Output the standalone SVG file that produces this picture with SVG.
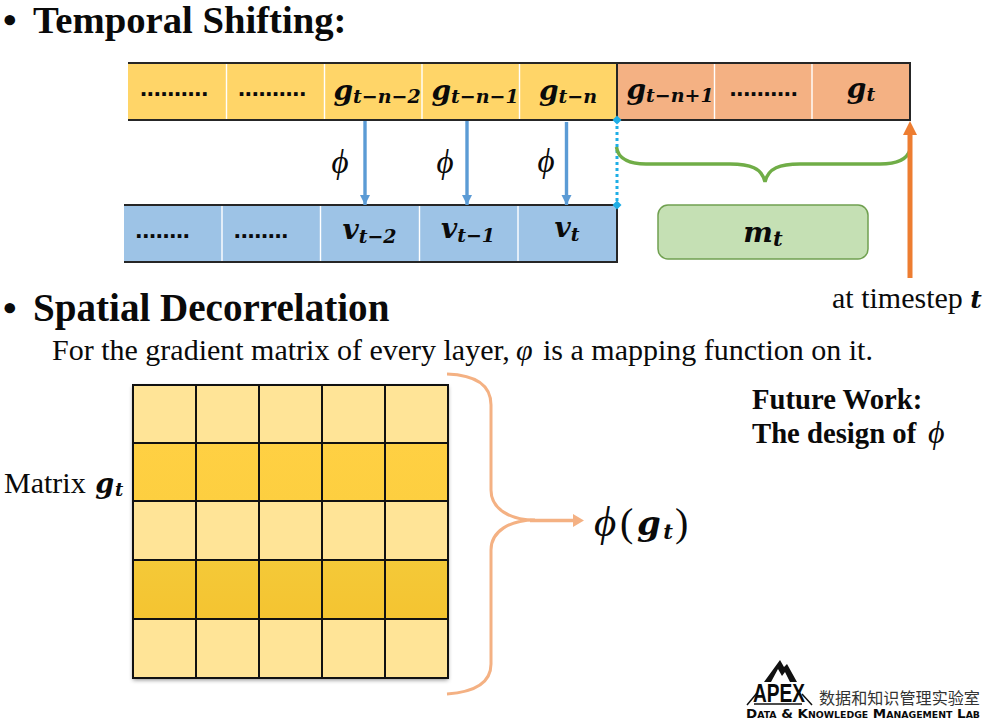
<svg xmlns="http://www.w3.org/2000/svg" width="1002" height="727" viewBox="0 0 1002 727">
<defs>
<style>
text{font-family:"Liberation Serif","Times New Roman",serif;fill:#0a0a0a}
.h{font-size:38.800px;font-weight:bold}
.b{font-size:30px}
.f{font-size:28.700px;font-weight:bold}
.m{font-family:"DejaVu Serif",serif;font-weight:bold;font-style:italic;text-anchor:middle}
.g{font-size:28px}
.s{font-size:19px}
.d{font-family:"Liberation Sans",sans-serif;font-weight:bold;text-anchor:middle;font-size:25.500px;letter-spacing:-.3px}
.p{font-family:"Liberation Serif",serif;font-style:italic;font-size:33px;text-anchor:middle}
.dv{stroke:#fff;stroke-width:1.400}
.bd{stroke:#262626;stroke-width:2;fill:none}
.blue{stroke:#5b9bd5;stroke-width:3.400;fill:none}
.gl{stroke:#111;stroke-width:2;fill:none}
</style>
<marker id="bh" markerUnits="userSpaceOnUse" markerWidth="12" markerHeight="12" refX="10" refY="5" orient="auto"><path d="M0 0L10 5L0 10z" fill="#5b9bd5"/></marker>
<marker id="dm" markerUnits="userSpaceOnUse" markerWidth="10" markerHeight="10" refX="5" refY="5"><path d="M5 0.500L9.500 5L5 9.500L0.500 5z" fill="#1eaee6"/></marker>
<linearGradient id="g1" x1="0" y1="0" x2="0" y2="1"><stop offset="0" stop-color="#ffd043"/><stop offset="1" stop-color="#fdcf40"/></linearGradient>
<linearGradient id="g2" x1="0" y1="0" x2="0" y2="1"><stop offset="0" stop-color="#f4c938"/><stop offset="1" stop-color="#f4c431"/></linearGradient>
<filter id="sh" x="-5%" y="-5%" width="110%" height="110%"><feDropShadow dx="0" dy="2" stdDeviation="2" flood-color="#000" flood-opacity=".45"/></filter>
</defs>
<rect width="1002" height="727" fill="#fff"/>

<g id="heading-temporal"><text class="h" x="3" y="33">•</text><text class="h" x="33" y="33" font-size="38.700" style="font-size:38.700px">Temporal Shifting:</text></g>

<g id="row-g">
<rect x="128" y="63" width="489" height="57" fill="#ffd568"/>
<rect x="617" y="63" width="293" height="57" fill="#f4b183"/>
<path class="dv" d="M226.500 64V119M324.500 64V119M422 64V119M519.500 64V119M714.500 64V119M812 64V119"/>
<path class="bd" d="M128 63H910V120H128M617 63V120"/>
<text class="d" x="174" y="95.500">..........</text>
<text class="d" x="272" y="95.500">..........</text>
<text class="m g" x="377" y="100">g<tspan class="s" dy="3">t−n−2</tspan></text>
<text class="m g" x="475" y="100">g<tspan class="s" dy="3">t−n−1</tspan></text>
<text class="m g" x="568" y="100">g<tspan class="s" dy="3">t−n</tspan></text>
<text class="m g" x="670" y="99">g<tspan class="s" dy="3">t−n+1</tspan></text>
<text class="d" x="763.500" y="95.500">..........</text>
<text class="m g" x="861" y="98">g<tspan class="s" dy="3">t</tspan></text>
</g>

<g id="row-v">
<rect x="124" y="205" width="493" height="57" fill="#9dc3e6"/>
<path class="dv" d="M222 206V261M320.500 206V261M419.500 206V261M518 206V261"/>
<path class="bd" d="M124 205H617V262H124"/>
<text class="d" x="162.500" y="238">........</text>
<text class="d" x="261" y="238">........</text>
<text class="m g" x="369.500" y="239">v<tspan class="s" dy="4">t−2</tspan></text>
<text class="m g" x="468" y="238">v<tspan class="s" dy="4">t−1</tspan></text>
<text class="m g" x="567" y="237">v<tspan class="s" dy="4">t</tspan></text>
</g>

<g id="connectors">
<path class="blue" marker-end="url(#bh)" d="M365 121V205"/>
<path class="blue" marker-end="url(#bh)" d="M467 121V205"/>
<path class="blue" marker-end="url(#bh)" d="M566.500 122V205"/>
<path d="M617 120V205" stroke="#1eaee6" stroke-width="3" stroke-dasharray="3 3" fill="none" marker-start="url(#dm)" marker-end="url(#dm)"/>
<path d="M616.500 147C618 160 632 164 646 164H730C750 164 762 168 765 182C768 168 780 164 800 164H880C895 164 907 160 910 150" stroke="#70ad47" stroke-width="3.500" fill="none"/>
<path d="M910 278V132" stroke="#ed7d31" stroke-width="5" fill="none"/>
<path d="M910 121L917 135H903z" fill="#ed7d31"/>
<path d="M447 374C475 375 491 385 491 405V490C491 509 510 520 535 520C510 520 491 531 491 550V664C491 683 475 692 447 694" stroke="#f4b183" stroke-width="3" fill="none"/>
<path d="M530 520.500H575" stroke="#f4b183" stroke-width="3.500" fill="none"/>
<path d="M573 514L584 520.500L573 527z" fill="#f4b183"/>
</g>

<g id="phi-labels">
<text class="p" x="340" y="173">ϕ</text>
<text class="p" x="445" y="173">ϕ</text>
<text class="p" x="546" y="172">ϕ</text>
</g>

<g id="node-m">
<rect x="658" y="205" width="210" height="54" rx="10" fill="#c5e0b4" stroke="#70a050" stroke-width="1.500"/>
<text class="m" font-size="28" x="763" y="242">m<tspan font-size="21" dy="4">t</tspan></text>
</g>

<g id="label-timestep"><text class="b" x="832" y="308">at timestep <tspan class="m" font-size="25" style="text-anchor:start">t</tspan></text></g>

<g id="heading-spatial"><text class="h" x="3" y="321">•</text><text class="h" x="33" y="321" style="font-size:39.100px">Spatial Decorrelation</text></g>
<g id="desc"><text class="b" x="52" y="360">For the gradient matrix of every layer,</text><text class="b" x="516" y="360" font-style="italic">φ</text><text class="b" x="543" y="360">is a mapping function on it.</text></g>

<g id="matrix">
<g filter="url(#sh)"><rect x="133" y="385" width="315" height="293" fill="#ffe497"/></g>
<rect x="133" y="443" width="315" height="58" fill="url(#g1)"/>
<rect x="133" y="560" width="315" height="59" fill="url(#g2)"/>
<path class="gl" d="M133 385H448V678H133zM196 385V678M259 385V678M322 385V678M385 385V678M133 443H448M133 501H448M133 560H448M133 619H448"/>
</g>
<g id="label-matrix"><text class="b" x="4" y="493">Matrix <tspan class="m" font-size="27" dx="2" style="text-anchor:start">g</tspan><tspan class="m" font-size="18" dx="1" dy="3" style="text-anchor:start">t</tspan></text></g>
<g id="node-phi-g"><text font-size="43" x="594" y="536" font-style="italic">ϕ</text><text font-size="40" x="620" y="536">(</text><text class="m" font-size="34" x="649" y="535">g</text><text class="m" font-size="21" x="668" y="539">t</text><text font-size="40" x="675" y="536">)</text></g>
<g id="future"><text class="f" x="752" y="409">Future Work:</text><text class="f" x="752" y="443">The design of</text><text x="928" y="443" font-style="italic" font-size="32">ϕ</text></g>

<g id="logo">
<path d="M764 682L780 660L784 667L787 664L797 682L790 682L785 672L782 676L778 669L771 682z" fill="#111"/>
<path d="M747 705L757 693M802 694L812 705" stroke="#111" stroke-width="1.500"/>
<text x="779" y="702" text-anchor="middle" font-size="25" font-weight="bold" style="font-family:'Liberation Sans',sans-serif" textLength="52" lengthAdjust="spacingAndGlyphs">APEX</text>
<path d="M754 704H802" stroke="#111" stroke-width="1.500"/>
<text x="819" y="704" font-size="16.100" style="font-family:'Noto Sans CJK SC',sans-serif;fill:#333">数据和知识管理实验室</text>
<text x="746" y="718" font-size="11.500" font-weight="bold" style="font-family:'DejaVu Sans',sans-serif;font-variant:small-caps" textLength="234" lengthAdjust="spacingAndGlyphs">Data &amp; Knowledge Management Lab</text>
</g>
</svg>
